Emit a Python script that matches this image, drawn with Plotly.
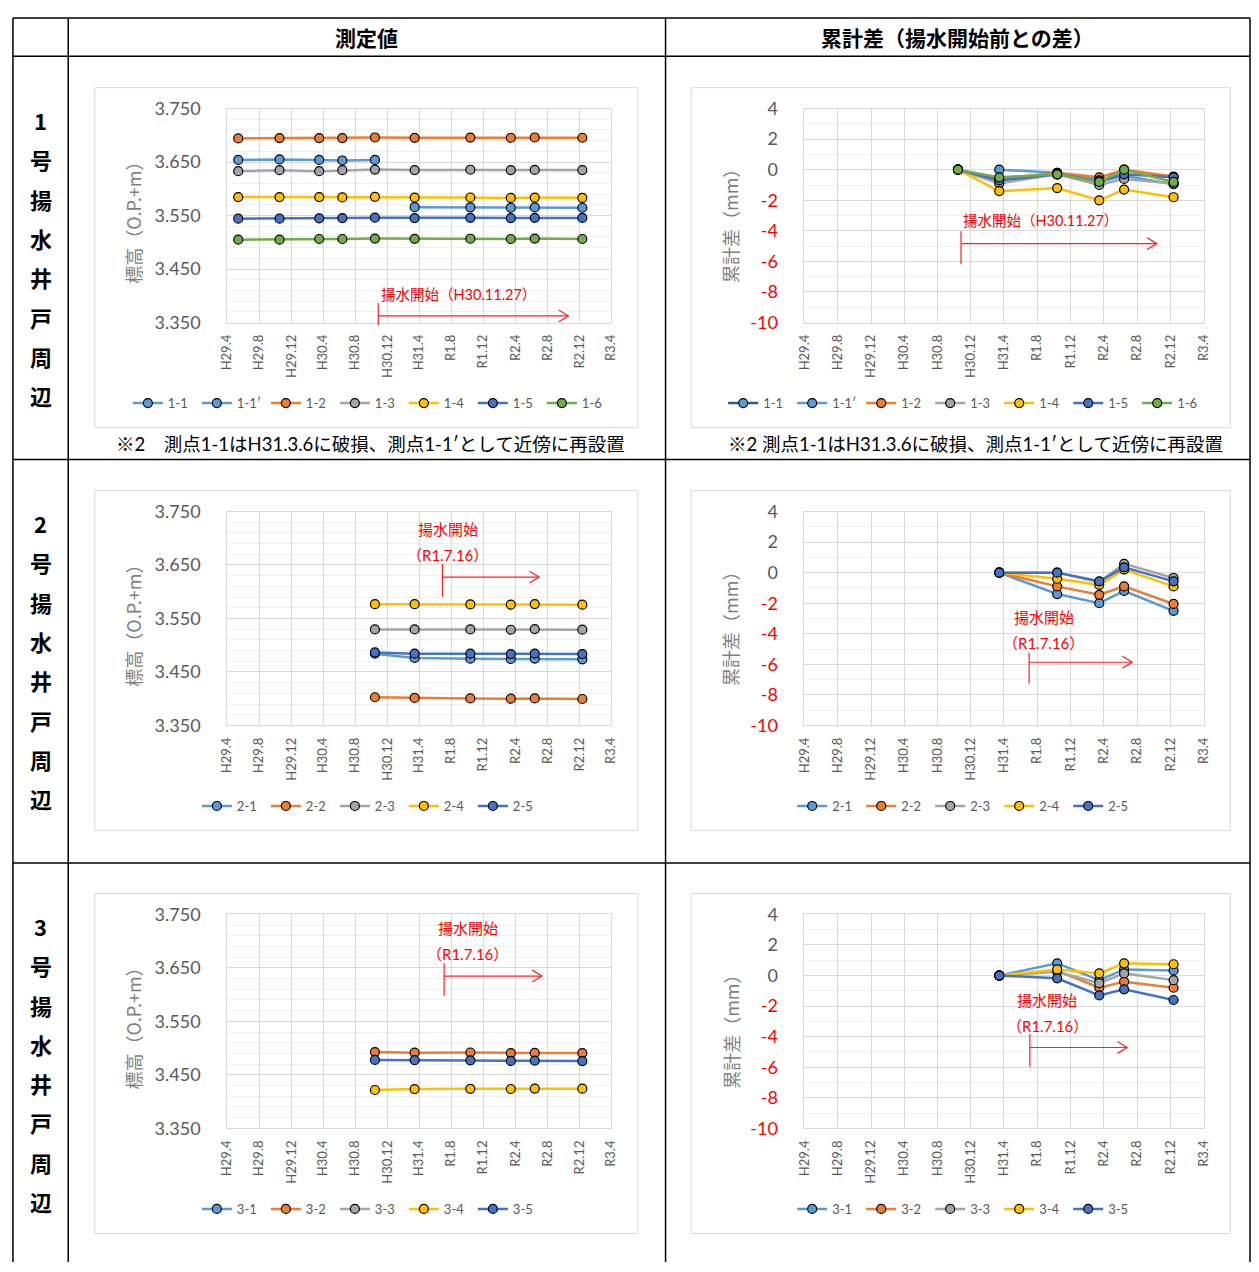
import plotly.graph_objects as go

W, H = 1259, 1272

# ---------------- data ----------------
DATES = ["2017-05-13", "2017-10-17", "2018-03-17", "2018-06-13", "2018-10-15",
         "2019-03-15", "2019-10-13", "2020-03-15", "2020-06-14", "2020-12-12"]

TICK_DATES = ["2017-04-01", "2017-08-01", "2017-12-01", "2018-04-01", "2018-08-01",
              "2018-12-01", "2019-04-01", "2019-08-01", "2019-12-01", "2020-04-01",
              "2020-08-01", "2020-12-01", "2021-04-01"]
TICK_LABELS = ["H29.4", "H29.8", "H29.12", "H30.4", "H30.8", "H30.12", "H31.4",
               "R1.8", "R1.12", "R2.4", "R2.8", "R2.12", "R3.4"]

N = None

# Well 1 - elevation (O.P.+m)
W1_NAMES = ["1-1", "1-1′", "1-2", "1-3", "1-4", "1-5", "1-6"]
W1_E_11 = [3.654, 3.655, 3.654, 3.653, 3.654, N, N, N, N, N]
W1_E_11D = [N, N, N, N, N, 3.5656, 3.5654, 3.5646, 3.5652, 3.5646]
W1_E_12 = [3.6943, 3.6949, 3.6949, 3.6949, 3.696, 3.6954, 3.6958, 3.6955, 3.696, 3.6955]
W1_E_13 = [3.633, 3.6348, 3.633, 3.6348, 3.636, 3.6351, 3.6357, 3.635, 3.6354, 3.6351]
W1_E_14 = [3.5846, 3.5846, 3.5846, 3.584, 3.585, 3.5836, 3.5838, 3.583, 3.5837, 3.5832]
W1_E_15 = [3.5442, 3.5442, 3.5448, 3.5454, 3.546, 3.5453, 3.5457, 3.5453, 3.5457, 3.5455]
W1_E_16 = [3.505, 3.505, 3.5062, 3.5062, 3.507, 3.5065, 3.5067, 3.5062, 3.507, 3.5062]

# Well 1 - cumulative difference (mm)
W1_D_11 = [N, N, N, N, 0, N, N, N, N, N]
W1_D_11D = [N, N, N, N, N, 0, -0.2, -0.8, -0.4, -0.95]
W1_D_12 = [N, N, N, N, 0, -0.6, -0.2, -0.5, 0.0, -0.45]
W1_D_13 = [N, N, N, N, 0, -0.9, -0.3, -1.0, -0.6, -0.9]
W1_D_14 = [N, N, N, N, 0, -1.4, -1.2, -2.0, -1.3, -1.8]
W1_D_15 = [N, N, N, N, 0, -0.7, -0.3, -0.7, -0.3, -0.5]
W1_D_16 = [N, N, N, N, 0, -0.5, -0.3, -0.8, 0.0, -0.8]

# Well 2 - elevation
W2_NAMES = ["2-1", "2-2", "2-3", "2-4", "2-5"]
W2_E_1 = [N, N, N, N, 3.4841, 3.4762, 3.4748, 3.4742, 3.475, 3.4737]
W2_E_2 = [N, N, N, N, 3.4027, 3.4015, 3.4006, 3.4, 3.4006, 3.3994]
W2_E_3 = [N, N, N, N, 3.5295, 3.5295, 3.5295, 3.5289, 3.5301, 3.5291]
W2_E_4 = [N, N, N, N, 3.5767, 3.5767, 3.5763, 3.5759, 3.5769, 3.5758]
W2_E_5 = [N, N, N, N, 3.4866, 3.4841, 3.4841, 3.4835, 3.4844, 3.4835]

# Well 2 - cumulative difference
W2_D_1 = [N, N, N, N, N, 0, -1.4, -2.0, -1.2, -2.5]
W2_D_2 = [N, N, N, N, N, 0, -0.9, -1.45, -0.9, -2.05]
W2_D_3 = [N, N, N, N, N, 0, 0.0, -0.6, 0.57, -0.35]
W2_D_4 = [N, N, N, N, N, 0, -0.4, -0.8, 0.2, -0.9]
W2_D_5 = [N, N, N, N, N, 0, 0.0, -0.57, 0.35, -0.57]

# Well 3 - elevation (3-1, 3-3 outside the displayed range)
W3_NAMES = ["3-1", "3-2", "3-3", "3-4", "3-5"]
W3_E_1 = [N, N, N, N, N, N, N, N, N, N]
W3_E_2 = [N, N, N, N, 3.4927, 3.4915, 3.4918, 3.4907, 3.4911, 3.4907]
W3_E_3 = [N, N, N, N, N, N, N, N, N, N]
W3_E_4 = [N, N, N, N, 3.4217, 3.4235, 3.4239, 3.4236, 3.4243, 3.4242]
W3_E_5 = [N, N, N, N, 3.478, 3.4774, 3.4772, 3.4761, 3.4765, 3.4758]

# Well 3 - cumulative difference
W3_D_1 = [N, N, N, N, N, 0, 0.8, -0.3, 0.4, 0.33]
W3_D_2 = [N, N, N, N, N, 0, 0.3, -0.8, -0.4, -0.8]
W3_D_3 = [N, N, N, N, N, 0, 0.25, -0.5, 0.14, -0.3]
W3_D_4 = [N, N, N, N, N, 0, 0.4, 0.14, 0.8, 0.74]
W3_D_5 = [N, N, N, N, N, 0, -0.18, -1.3, -0.9, -1.6]

ELEV_TICKS = [3.35, 3.45, 3.55, 3.65, 3.75]
DIFF_TICKS = [-10, -8, -6, -4, -2, 0, 2, 4]

# ---------------- styles ----------------
C_LB = "#5B9BD5"
C_OR = "#ED7D31"
C_GR = "#A5A5A5"
C_GO = "#FFC000"
C_BL = "#4472C4"
C_GN = "#70AD47"
C_DK = "#255E91"

NUMF = "Lato, Noto Sans CJK JP"
JPF = "Noto Sans CJK JP"
TXT = "#595959"
GRID = "#d9d9d9"
MINOR = "#f0f0f0"


def px(x):
    return x / W


def py(y):
    return 1 - y / H


fig = go.Figure()


def add_series(k, names, ys, colors, line_colors=None):
    leg = "legend" if k == 1 else f"legend{k}"
    ax = "" if k == 1 else str(k)
    if line_colors is None:
        line_colors = colors
    for name, y, c, lc in zip(names, ys, colors, line_colors):
        fig.add_trace(go.Scatter(
            x=DATES, y=y, name=name, mode="lines+markers",
            line=dict(color=lc, width=2.5),
            marker=dict(size=9, color=c, line=dict(color="black", width=1.2)),
            xaxis="x" + ax, yaxis="y" + ax, legend=leg, connectgaps=False,
            hoverinfo="x+y+name"))


W1_COL = [C_LB, C_LB, C_OR, C_GR, C_GO, C_BL, C_GN]
W1_LINE_R = [C_DK, C_LB, C_OR, C_GR, C_GO, C_BL, C_GN]
W23_COL = [C_LB, C_OR, C_GR, C_GO, C_BL]

add_series(1, W1_NAMES, [W1_E_11, W1_E_11D, W1_E_12, W1_E_13, W1_E_14, W1_E_15, W1_E_16], W1_COL)
add_series(2, W1_NAMES, [W1_D_11, W1_D_11D, W1_D_12, W1_D_13, W1_D_14, W1_D_15, W1_D_16], W1_COL, W1_LINE_R)
add_series(3, W2_NAMES, [W2_E_1, W2_E_2, W2_E_3, W2_E_4, W2_E_5], W23_COL)
add_series(4, W2_NAMES, [W2_D_1, W2_D_2, W2_D_3, W2_D_4, W2_D_5], W23_COL)
add_series(5, W3_NAMES, [W3_E_1, W3_E_2, W3_E_3, W3_E_4, W3_E_5], W23_COL)
add_series(6, W3_NAMES, [W3_D_1, W3_D_2, W3_D_3, W3_D_4, W3_D_5], W23_COL)

# ---------------- axes ----------------
LEFT_X = (221, 610)
RIGHT_X = (805.7, 1210)
ROW_TOP = 98.3
ROW_BOT = 316
STEP = 410

layout = dict(width=W, height=H, margin=dict(l=0, r=0, t=0, b=0), autosize=False,
              paper_bgcolor="white", plot_bgcolor="white", showlegend=True)

diff_text = [(f"<span style='color:#ff0000'>{v}</span>" if v < 0 else str(v)) for v in DIFF_TICKS]

for k in range(1, 7):
    row = (k - 1) // 2
    left = (k % 2 == 1)
    xr = LEFT_X if left else RIGHT_X
    yt = ROW_TOP + STEP * row
    yb = ROW_BOT + STEP * row
    ax = "" if k == 1 else str(k)
    layout["xaxis" + ax] = dict(
        type="date", domain=[px(xr[0]), px(xr[1])], anchor="y" + ax,
        range=["2017-04-01", "2021-04-01"], tickmode="array",
        tickvals=TICK_DATES, ticktext=TICK_LABELS, tickangle=-90,
        tickfont=dict(family=NUMF, size=13, color=TXT),
        showgrid=True, gridcolor=GRID, gridwidth=1, zeroline=False,
        showline=True, linecolor=GRID, linewidth=1, mirror=True, ticks="",
        ticklabelstandoff=6)
    if left:
        yax = dict(range=[3.35, 3.75], tickmode="array", tickvals=ELEV_TICKS,
                   ticktext=[f"{v:.3f}" for v in ELEV_TICKS],
                   minor=dict(tickmode="linear", tick0=3.35, dtick=0.02, showgrid=True,
                              gridcolor=MINOR, gridwidth=1, ticks=""))
    else:
        yax = dict(range=[-10, 4], tickmode="array", tickvals=DIFF_TICKS, ticktext=diff_text,
                   minor=dict(tickmode="linear", tick0=-10, dtick=1, showgrid=True,
                              gridcolor=MINOR, gridwidth=1, ticks=""))
    yax.update(domain=[py(yb), py(yt)], anchor="x" + ax,
               tickfont=dict(family=NUMF, size=18, color=TXT),
               showgrid=True, gridcolor=GRID, gridwidth=1, zeroline=False,
               showline=True, linecolor=GRID, linewidth=1, mirror=True, ticks="",
               ticklabelstandoff=22)
    layout["yaxis" + ax] = yax

    leg = "legend" if k == 1 else f"legend{k}"
    layout[leg] = dict(orientation="h", xanchor="center", yanchor="middle",
                       x=px(365 if left else 968), y=py(398 + STEP * row),
                       font=dict(family=NUMF, size=13, color=TXT),
                       bgcolor="rgba(0,0,0,0)", entrywidth=24, entrywidthmode="pixels",
                       itemwidth=30, tracegroupgap=0)

fig.update_layout(**layout)

# ---------------- shapes ----------------
shapes = []
BLK = dict(color="black", width=1.5)


def line(x0, y0, x1, y1, **ln):
    shapes.append(dict(type="line", xref="paper", yref="paper",
                       x0=px(x0), y0=py(y0), x1=px(x1), y1=py(y1), line=ln, layer="above"))


# table grid
for xv in (4, 60, 665, 1257):
    line(xv, 6, xv, 1272, **BLK)
for yv in (6, 45, 455.5, 866):
    line(4, yv, 1257, yv, **BLK)

# chart area boxes
for row in range(3):
    for (x0, x1) in ((87, 637), (691, 1237)):
        shapes.append(dict(type="rect", xref="paper", yref="paper",
                           x0=px(x0), x1=px(x1), y0=py(77 + STEP * row), y1=py(423 + STEP * row),
                           line=dict(color=GRID, width=1), fillcolor="rgba(0,0,0,0)", layer="below"))

RED = dict(color="#ff2020", width=1.2)


def marker_arrow(xv, yv0, yv1, ya, xe):
    line(xv, yv0, xv, yv1, **RED)
    line(xv, ya, xe, ya, **RED)
    line(xe - 10, ya - 6, xe, ya, **RED)
    line(xe - 10, ya + 6, xe, ya, **RED)


marker_arrow(374, 296, 319, 309.3, 566.7)
marker_arrow(964.3, 223, 256.7, 235.7, 1162.7)
marker_arrow(439, 561.7, 595, 575, 537)
marker_arrow(1033.3, 651.7, 683.3, 661.7, 1137.7)
marker_arrow(440.7, 968, 1001, 981, 540)
marker_arrow(1034, 1040, 1073.3, 1053.7, 1132.7)

fig.update_layout(shapes=shapes)

# ---------------- annotations ----------------
ann = []


def text(x, y, s, size, color="black", family=JPF, xanchor="center", angle=0):
    ann.append(dict(xref="paper", yref="paper", x=px(x), y=py(y), text=s, showarrow=False,
                    xanchor=xanchor, yanchor="middle", textangle=angle,
                    font=dict(family=family, size=size, color=color)))


text(362.5, 25.5, "<b>測定値</b>", 21)
text(961, 25.5, "<b>累計差（揚水開始前との差）</b>", 21)

for row, num in enumerate(["1", "2", "3"]):
    chars = [num] + list("号揚水井戸周辺")
    for i, ch in enumerate(chars):
        text(32, 110 + 40 * i + STEP * row, f"<b>{ch}</b>", 22)
    text(126, 210 + STEP * row, "標高（O.P.+m）", 18, color="#7f7f7f", angle=-90)
    text(731, 213 + STEP * row, "累計差（mm）", 18, color="#7f7f7f", angle=-90)

text(366, 440, "※2　測点1-1はH31.3.6に破損、測点1-1′として近傍に再設置", 18.5, family=NUMF)
text(979, 440, "※2 測点1-1はH31.3.6に破損、測点1-1′として近傍に再設置", 18.5, family=NUMF)

RT = "#ff0000"
text(375, 287, "揚水開始（H30.11.27）", 14.5, color=RT, family=NUMF, xanchor="left")
text(964, 211.7, "揚水開始（H30.11.27）", 14.5, color=RT, family=NUMF, xanchor="left")
for (cx, y1, y2) in ((444.5, 526, 552.3), (1048, 615.7, 642.3),
                     (464.5, 931.7, 959), (1051.7, 1005, 1031.7)):
    text(cx, y1, "揚水開始", 15, color=RT, family=NUMF)
    text(cx, y2, "（R1.7.16）", 15, color=RT, family=NUMF)

fig.update_layout(annotations=ann)

POST = ("document.documentElement.style.margin='0';"
        "document.documentElement.style.padding='0';"
        "document.documentElement.style.overflow='hidden';"
        "document.body.style.margin='0';"
        "document.body.style.padding='0';"
        "document.body.style.overflow='hidden';"
        "var gd=document.getElementsByClassName('plotly-graph-div')[0];"
        "gd.style.position='absolute';gd.style.left='0px';gd.style.top='0px';")

fig.write_html("out.html", config={"displayModeBar": False}, post_script=POST)
